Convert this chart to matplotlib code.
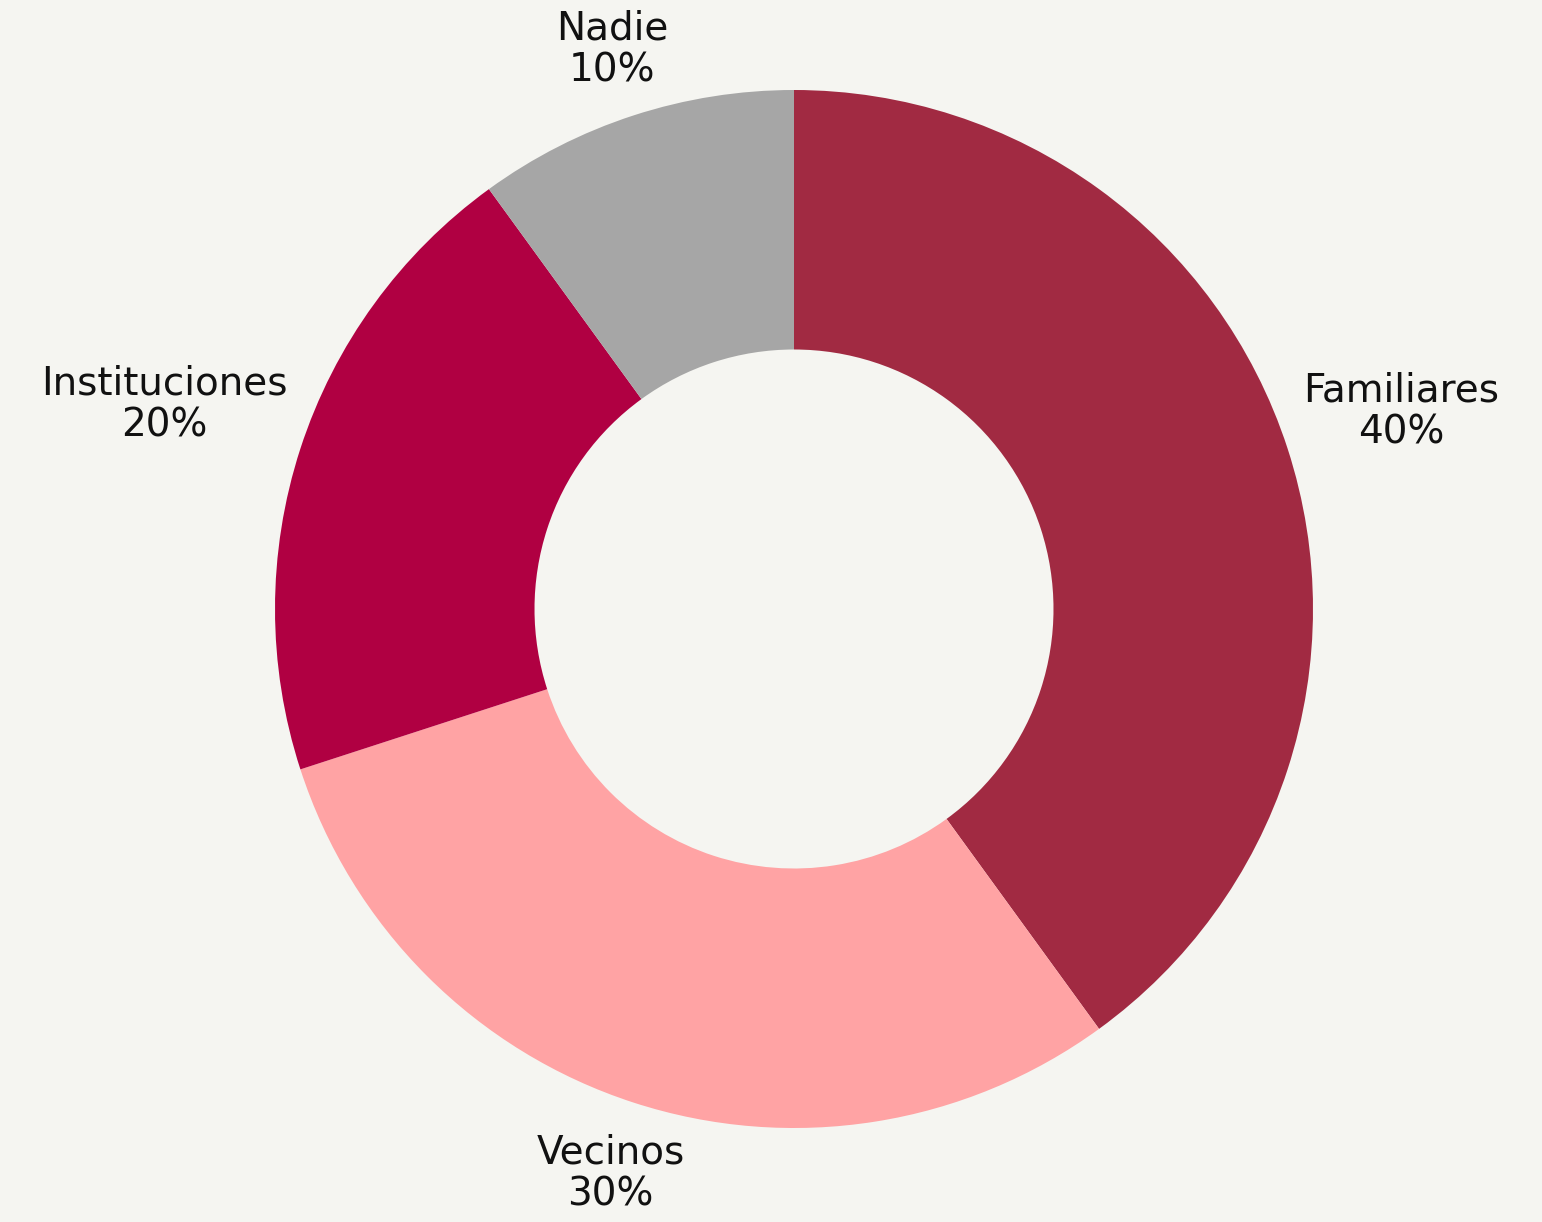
import numpy as np
import matplotlib; matplotlib.use('Agg')
import matplotlib.pyplot as plt

labels = ['Familiares', 'Vecinos', 'Instituciones', 'Nadie']
values = [40, 30, 20, 10]
colors = ['#A12A42', '#FFA3A4', '#B00042', '#A6A6A6']

BG = '#F5F5F1'
W, H = 1542, 1222
fig = plt.figure(figsize=(W / 100, H / 100), dpi=100, facecolor=BG)
ax = fig.add_axes([0, 0, 1, 1])
ax.set_facecolor(BG)

cx, cy, R = 794, 613, 519
wedges, _ = ax.pie(values, colors=colors, startangle=90, counterclock=False,
                   center=(cx, cy), radius=R, wedgeprops=dict(width=R * 0.5, linewidth=0),
                   frame=True)
ax.set_xlim(0, W); ax.set_ylim(0, H)
ax.axis('off')

fig.canvas.draw()
rend = fig.canvas.get_renderer()
total = sum(values)
for w, lab, v in zip(wedges, labels, values):
    ang = np.deg2rad((w.theta1 + w.theta2) / 2)
    t = ax.text(0, 0, f'{lab}\n{v / total:.0%}', ha='center', va='center',
                fontsize=28, color='#111111', linespacing=1.12, family='DejaVu Sans')
    bb = t.get_window_extent(rend)
    d = R + 14 + abs(np.cos(ang)) * bb.width / 2 + abs(np.sin(ang)) * bb.height / 2
    t.set_position((cx + d * np.cos(ang), cy + d * np.sin(ang)))

fig.savefig('out.png', dpi=100, facecolor=BG)
